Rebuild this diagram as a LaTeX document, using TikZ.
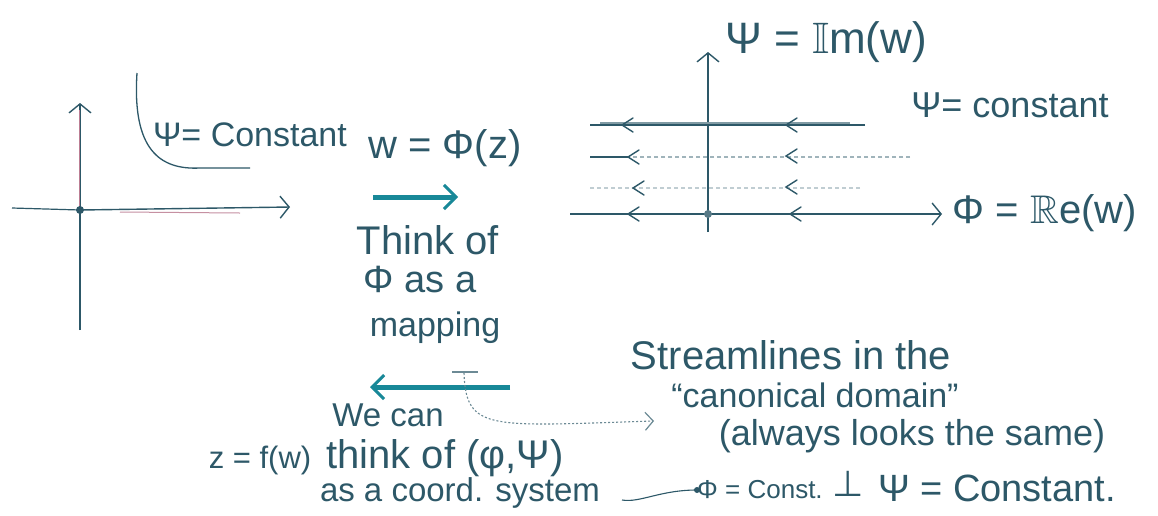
\documentclass[tikz,border=0pt]{standalone}
\usepackage{fontspec}
\setmainfont{Liberation Sans}
\newfontfamily\dejavufam{DejaVu Sans}
\usepackage{amssymb}
\usetikzlibrary{arrows.meta}
\definecolor{ink}{RGB}{45,88,104}
\definecolor{tealpen}{RGB}{24,136,152}
\definecolor{redpen}{RGB}{160,70,100}
\begin{document}
\begin{tikzpicture}[x=1pt,y=-1pt,
  axis/.style={ink, line width=1.4pt, -{Straight Barb[length=9pt,width=22pt,line width=1.4pt]}},
  lbl/.style={text=ink, inner sep=0pt},
  fs/.style={font=\fontsize{#1}{#1}\selectfont},
  tealarrow/.style={tealpen, line width=5pt, -{Straight Barb[length=12pt,width=24pt,line width=3pt]}},
  stream/.style={ink, line width=1.4pt},
  faint/.style={ink!45, line width=1.1pt, dash pattern=on 4pt off 3pt},
  conn/.style={ink!70, line width=1.1pt, dash pattern=on 2pt off 2pt, -{Straight Barb[length=8pt,width=18pt,line width=1.2pt]}},
  lt/.pic={\draw[ink, line width=1.4pt, line cap=round] (11,-7) -- (0,0) -- (11,7);}
]
\useasboundingbox[fill=white] (0,0) rectangle (1158,515);

% ---------- left plane ----------
\coordinate (O1) at (80,210);
\draw[ink, line width=1.2pt] (80,330) -- (80,210);
\draw[axis] (O1) -- (80,103);
\draw[ink, line width=1.2pt] (12,208) -- (O1);
\draw[axis] (O1) -- (290,207);
\draw[redpen!70, line width=1pt] (79,110) -- (79,206);
\draw[redpen!60, line width=1pt] (120,212) -- (240,213);
\fill[ink] (O1) circle (4pt);
\draw[ink, line width=1.3pt] (137,73) .. controls (132,150) and (160,170) .. (200,168) -- (250,168);
\node[lbl, fs=34] (psiL) at (250,135) {Ψ= Constant};

% ---------- middle ----------
\node[lbl, fs=40] (wphi) at (445,148) {w = Φ(z)};
\coordinate (ra1) at (373,197);
\coordinate (ra2) at (458,197);
\draw[tealarrow] (ra1) -- (ra2);
\node[lbl, fs=40] (think) at (428,240) {Think of};
\node[lbl, fs=38] (asa) at (420,280) {Φ as a};
\node[lbl, fs=34] (mapping) at (435,328) {mapping};
\coordinate (la1) at (510,387);
\coordinate (la2) at (370,387);
\draw[tealarrow] (la1) -- (la2);
\node[lbl, fs=33] (wecan) at (388,415) {We can};
\node[lbl, fs=40] (thinkof) at (445,458) {think of (φ,Ψ)};
\node[lbl, fs=33] (coord) at (460,493) {as a coord. system};
\node[lbl, fs=31] (zf) at (260,460) {z = f(w)};

% ---------- connector ----------
\coordinate (tk) at (464,373);
\draw[ink!70, line width=1.1pt] (452,372) -- (478,372);
\coordinate (tip) at (654,421);
\draw[conn] (tk) .. controls (466,432) and (490,426) .. (tip);

% ---------- right text ----------
\node[lbl, fs=40] (sl) at (791,355) {Streamlines in the};
\node[lbl, fs=34] (canon) at (815,395) {“canonical domain”};
\node[lbl, fs=36] (always) at (912,436) {(always looks the same)};
\coordinate (sq) at (622,500);
\node[lbl, fs=26, anchor=west] (phic) at (697,490) {Φ = Const.};
\draw[ink, line width=1.1pt] (sq) .. controls (640,503) and (660,490) .. (phic.west);
\fill[ink] (phic.west) circle (3pt);
\node[lbl, fs=36] (perp) at (848,484) {\dejavufam ⊥};
\node[lbl, fs=38, anchor=west] (psic) at (878,488) {Ψ = Constant.};

% ---------- right plane ----------
\coordinate (O2) at (708,214);
\draw[ink, line width=1.2pt] (708,232) -- (O2);
\draw[axis] (O2) -- (708,52);
\draw[ink, line width=1.3pt] (570,214) -- (O2);
\draw[axis] (O2) -- (942,214);
\fill[ink!80] (O2) circle (4pt);
\node[lbl, fs=44] (imw) at (826,42) {Ψ = $\mathbb{I}$m(w)};
\node[lbl, fs=40] (rew) at (1045,213) {Φ = $\mathbb{R}$e(w)};
\node[lbl, fs=36] (psic2) at (1010,105) {Ψ= constant};

\draw[stream] (865,125) -- (590,125);
\draw[stream, ink!60] (850,123) -- (600,123);
\draw[faint] (910,157) -- (630,157);
\draw[stream] (630,157) -- (590,157);
\draw[faint, ink!30] (860,188) -- (590,188);

\pic at (622,125) {lt};
\pic at (786,125) {lt};
\pic at (628,157) {lt};
\pic at (786,156) {lt};
\pic at (633,188) {lt};
\pic at (786,187) {lt};
\pic at (628,214) {lt};
\pic at (790,214) {lt};
\end{tikzpicture}
\end{document}
